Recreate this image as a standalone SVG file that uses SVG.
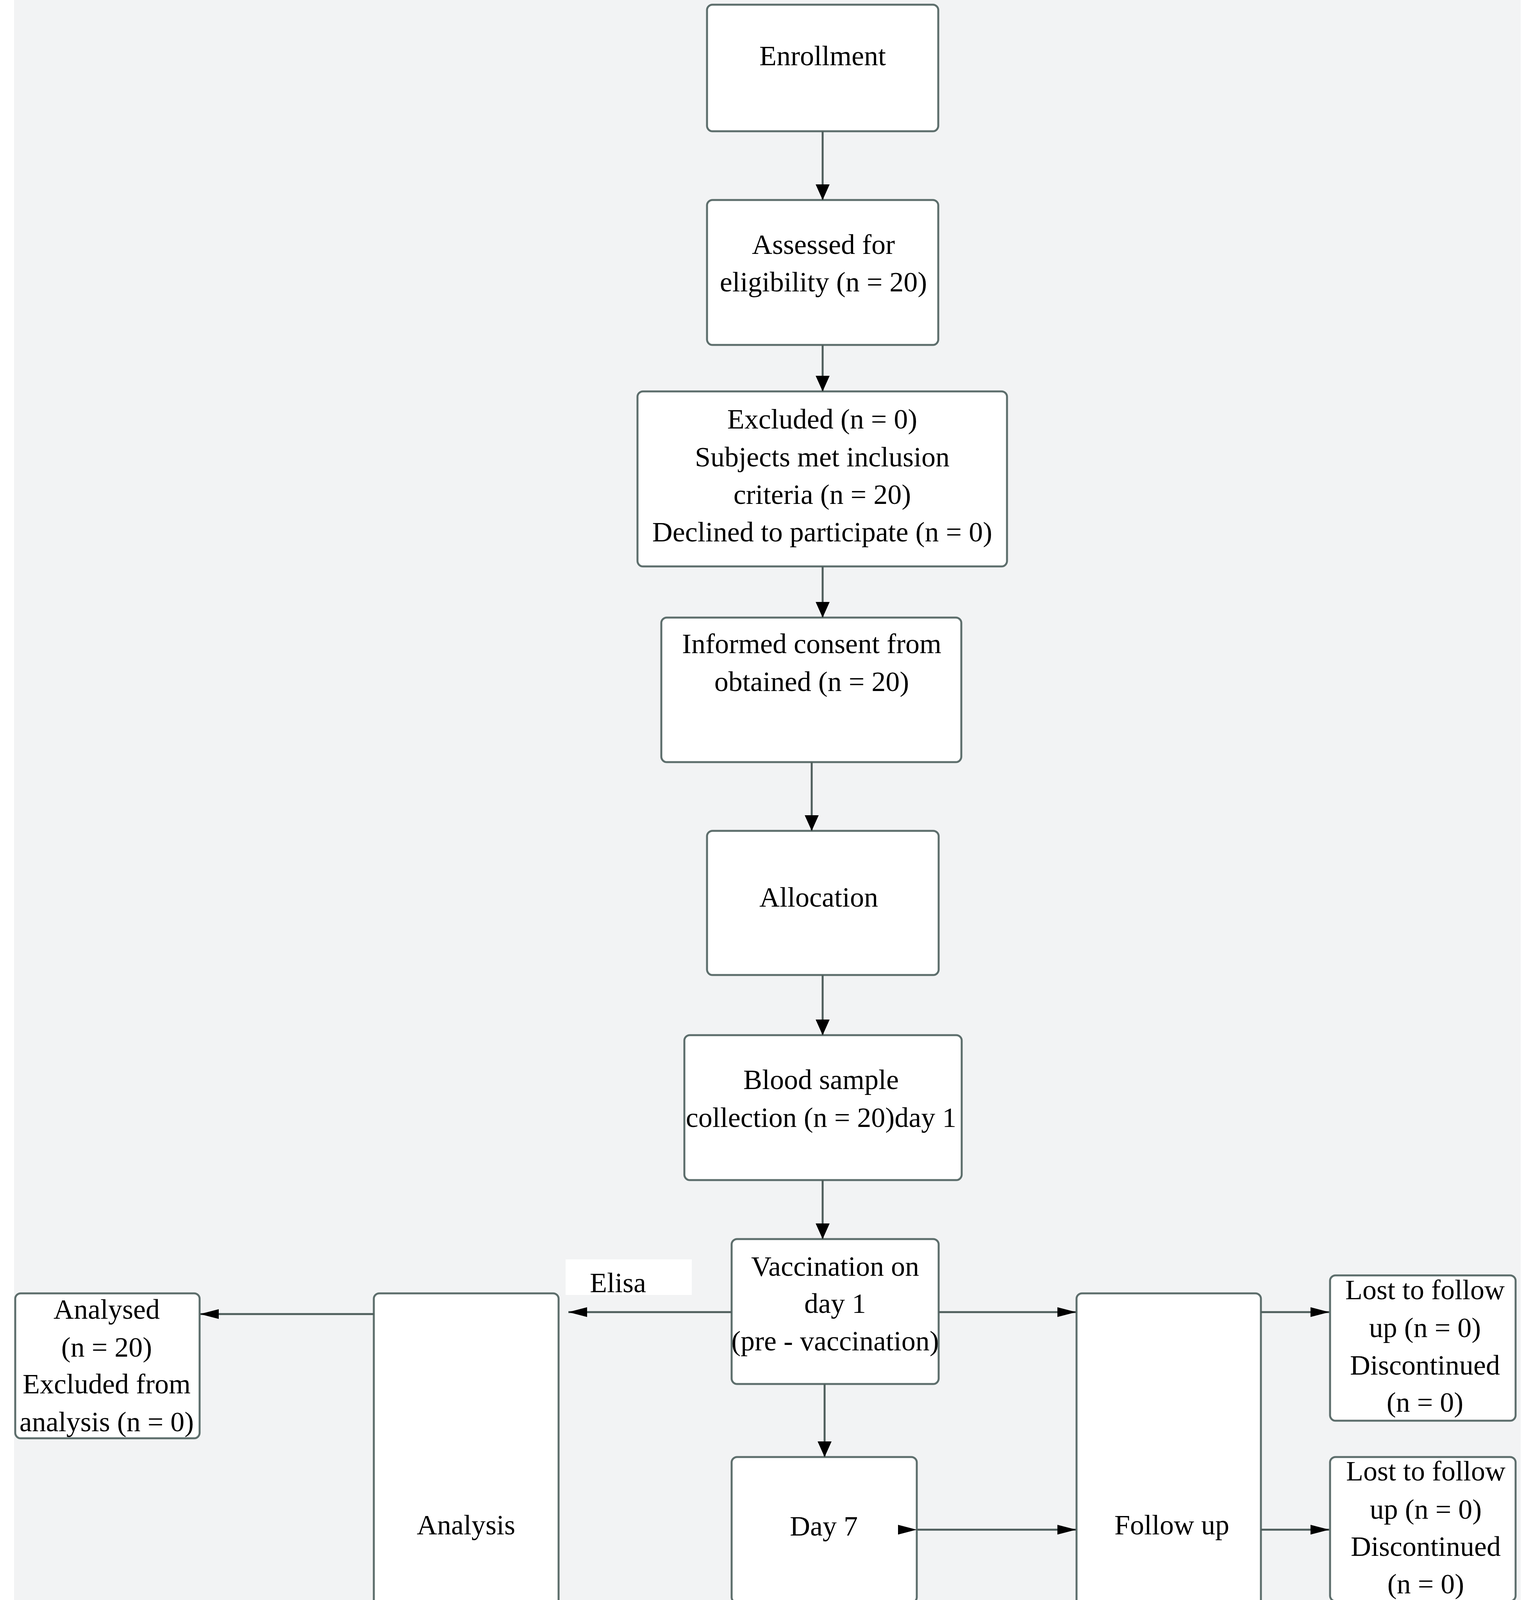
<svg xmlns="http://www.w3.org/2000/svg" width="3922" height="4724" viewBox="0 0 3922 4724">
<defs>
<style>
.box{fill:#ffffff;stroke:#5d6e6c;stroke-width:5}
.ln{fill:none;stroke:#4f5e5c;stroke-width:5}
.t{font-family:"Liberation Serif","Times New Roman",serif;font-size:72px;fill:#000000;text-anchor:middle}
.tl{font-family:"Liberation Serif","Times New Roman",serif;font-size:72px;fill:#000000}
.lab{fill:#ffffff}
</style>
<marker id="av" markerUnits="userSpaceOnUse" markerWidth="40" markerHeight="40" viewBox="0 0 38 34" refX="38" refY="17" orient="auto">
<path d="M0,0 L38,17 L0,34 z" fill="#000000"/>
</marker>
<marker id="ah" markerUnits="userSpaceOnUse" markerWidth="48" markerHeight="26" viewBox="0 0 46 24" refX="46" refY="12" orient="auto">
<path d="M0,0 L46,12 L0,24 z" fill="#000000"/>
</marker>
<marker id="as" markerUnits="userSpaceOnUse" markerWidth="48" markerHeight="26" viewBox="0 0 46 24" refX="46" refY="12" orient="0">
<path d="M0,0 L46,12 L0,24 z" fill="#000000"/>
</marker>
</defs>
<rect x="0" y="0" width="3922" height="4724" fill="#ffffff"/>
<rect x="36" y="0" width="3857" height="4679" fill="#f2f3f4"/>

<g id="enrollment">
<rect class="box" x="1810" y="12" width="592" height="324" rx="14"/>
<text class="t" x="2106" y="167">Enrollment</text>
</g>
<g id="assessed">
<rect class="box" x="1810" y="512" width="592" height="371" rx="14"/>
<text class="t" x="2108" y="650">Assessed for</text>
<text class="t" x="2108" y="746">eligibility (n = 20)</text>
</g>
<g id="excluded">
<rect class="box" x="1632" y="1002" width="946" height="448" rx="14"/>
<text class="t" x="2105" y="1097">Excluded (n = 0)</text>
<text class="t" x="2105" y="1194">Subjects met inclusion</text>
<text class="t" x="2105" y="1290">criteria (n = 20)</text>
<text class="t" x="2105" y="1386">Declined to participate (n = 0)</text>
</g>
<g id="consent">
<rect class="box" x="1693" y="1581" width="768" height="370" rx="14"/>
<text class="t" x="2078" y="1672">Informed consent from</text>
<text class="t" x="2078" y="1769">obtained (n = 20)</text>
</g>
<g id="allocation">
<rect class="box" x="1810" y="2127" width="593" height="369" rx="14"/>
<text class="t" x="2096" y="2321">Allocation</text>
</g>
<g id="blood1">
<rect class="box" x="1752" y="2650" width="710" height="371" rx="14"/>
<text class="t" x="2102" y="2788">Blood sample</text>
<text class="t" x="2102" y="2885">collection (n = 20)day 1</text>
</g>
<g id="vaccination">
<rect class="box" x="1873" y="3172" width="530" height="371" rx="14"/>
<text class="t" x="2138" y="3266">Vaccination on</text>
<text class="t" x="2138" y="3361">day 1</text>
<text class="t" x="2138" y="3457">(pre - vaccination)</text>
</g>
<g id="day7">
<rect class="box" x="1873" y="3730" width="474" height="373" rx="14"/>
<text class="t" x="2109" y="3931">Day 7</text>
</g>
<g id="blood2">
<rect class="box" x="1873" y="4288" width="530" height="369" rx="14"/>
<text class="t" x="2138" y="4348">Blood sample</text>
<text class="t" x="2138" y="4446">collection (n = 20)</text>
<text class="t" x="2138" y="4543">Day 28</text>
<text class="t" x="2138" y="4638">(post - vaccination)</text>
</g>
<g id="elisa1">
<rect class="lab" x="1448" y="3224" width="323" height="91"/>
<text class="tl" x="1510" y="3308">Elisa</text>
</g>
<g id="elisa2">
<rect class="lab" x="1475" y="4340" width="234" height="115"/>
<text class="tl" x="1506" y="4428">Elisa</text>
</g>
<g id="analysis">
<rect class="box" x="957" y="3311" width="473" height="1209" rx="14"/>
<text class="t" x="1193" y="3928">Analysis</text>
</g>
<g id="analysed1">
<rect class="box" x="39" y="3311" width="472" height="371" rx="14"/>
<text class="t" x="273" y="3376">Analysed</text>
<text class="t" x="273" y="3473">(n = 20)</text>
<text class="t" x="273" y="3567">Excluded from</text>
<text class="t" x="273" y="3664">analysis (n = 0)</text>
</g>
<g id="analysed2">
<rect class="box" x="39" y="4149" width="472" height="371" rx="14"/>
<text class="t" x="275" y="4206">Analysed</text>
<text class="t" x="275" y="4304">(n = 20)</text>
<text class="t" x="275" y="4400">Excluded from</text>
<text class="t" x="275" y="4495">analysis (n = 0)</text>
</g>
<g id="followup">
<rect class="box" x="2756" y="3311" width="472" height="1209" rx="14"/>
<text class="t" x="3000" y="3928">Follow up</text>
</g>
<g id="lost1">
<rect class="box" x="3405" y="3265" width="475" height="372" rx="14"/>
<text class="t" x="3648" y="3326">Lost to follow</text>
<text class="t" x="3648" y="3423">up (n = 0)</text>
<text class="t" x="3648" y="3519">Discontinued</text>
<text class="t" x="3648" y="3614">(n = 0)</text>
</g>
<g id="lost2">
<rect class="box" x="3405" y="3730" width="475" height="369" rx="14"/>
<text class="t" x="3650" y="3790">Lost to follow</text>
<text class="t" x="3650" y="3888">up (n = 0)</text>
<text class="t" x="3650" y="3983">Discontinued</text>
<text class="t" x="3650" y="4079">(n = 0)</text>
</g>
<g id="lost3">
<rect class="box" x="3405" y="4194" width="475" height="371" rx="14"/>
<text class="t" x="3645" y="4252">Lost to follow</text>
<text class="t" x="3645" y="4350">up (n = 0)</text>
<text class="t" x="3645" y="4445">Discontinued</text>
<text class="t" x="3645" y="4540">(n = 0)</text>
</g>

<g id="connectors">
<line class="ln" x1="2106" y1="336" x2="2106" y2="512" marker-end="url(#av)"/>
<line class="ln" x1="2106" y1="883" x2="2106" y2="1002" marker-end="url(#av)"/>
<line class="ln" x1="2106" y1="1450" x2="2106" y2="1581" marker-end="url(#av)"/>
<line class="ln" x1="2078" y1="1951" x2="2078" y2="2127" marker-end="url(#av)"/>
<line class="ln" x1="2106" y1="2496" x2="2106" y2="2650" marker-end="url(#av)"/>
<line class="ln" x1="2106" y1="3021" x2="2106" y2="3172" marker-end="url(#av)"/>
<line class="ln" x1="2111" y1="3543" x2="2111" y2="3730" marker-end="url(#av)"/>
<line class="ln" x1="2111" y1="4103" x2="2111" y2="4288" marker-end="url(#av)"/>
<line class="ln" x1="1873" y1="3359" x2="1455" y2="3359" marker-end="url(#ah)"/>
<line class="ln" x1="1873" y1="4475" x2="1458" y2="4475" marker-end="url(#ah)"/>
<line class="ln" x1="957" y1="3364" x2="512" y2="3364" marker-end="url(#ah)"/>
<line class="ln" x1="957" y1="4480" x2="514" y2="4480" marker-end="url(#ah)"/>
<line class="ln" x1="2403" y1="3359" x2="2755" y2="3359" marker-end="url(#ah)"/>
<line class="ln" x1="2347" y1="3916" x2="2755" y2="3916" marker-start="url(#as)" marker-end="url(#ah)"/>
<line class="ln" x1="2403" y1="4475" x2="2755" y2="4475" marker-end="url(#ah)"/>
<line class="ln" x1="3228" y1="3359" x2="3403" y2="3359" marker-end="url(#ah)"/>
<line class="ln" x1="3228" y1="3916" x2="3403" y2="3916" marker-end="url(#ah)"/>
<line class="ln" x1="3228" y1="4460" x2="3403" y2="4460" marker-end="url(#ah)"/>
</g>
</svg>
